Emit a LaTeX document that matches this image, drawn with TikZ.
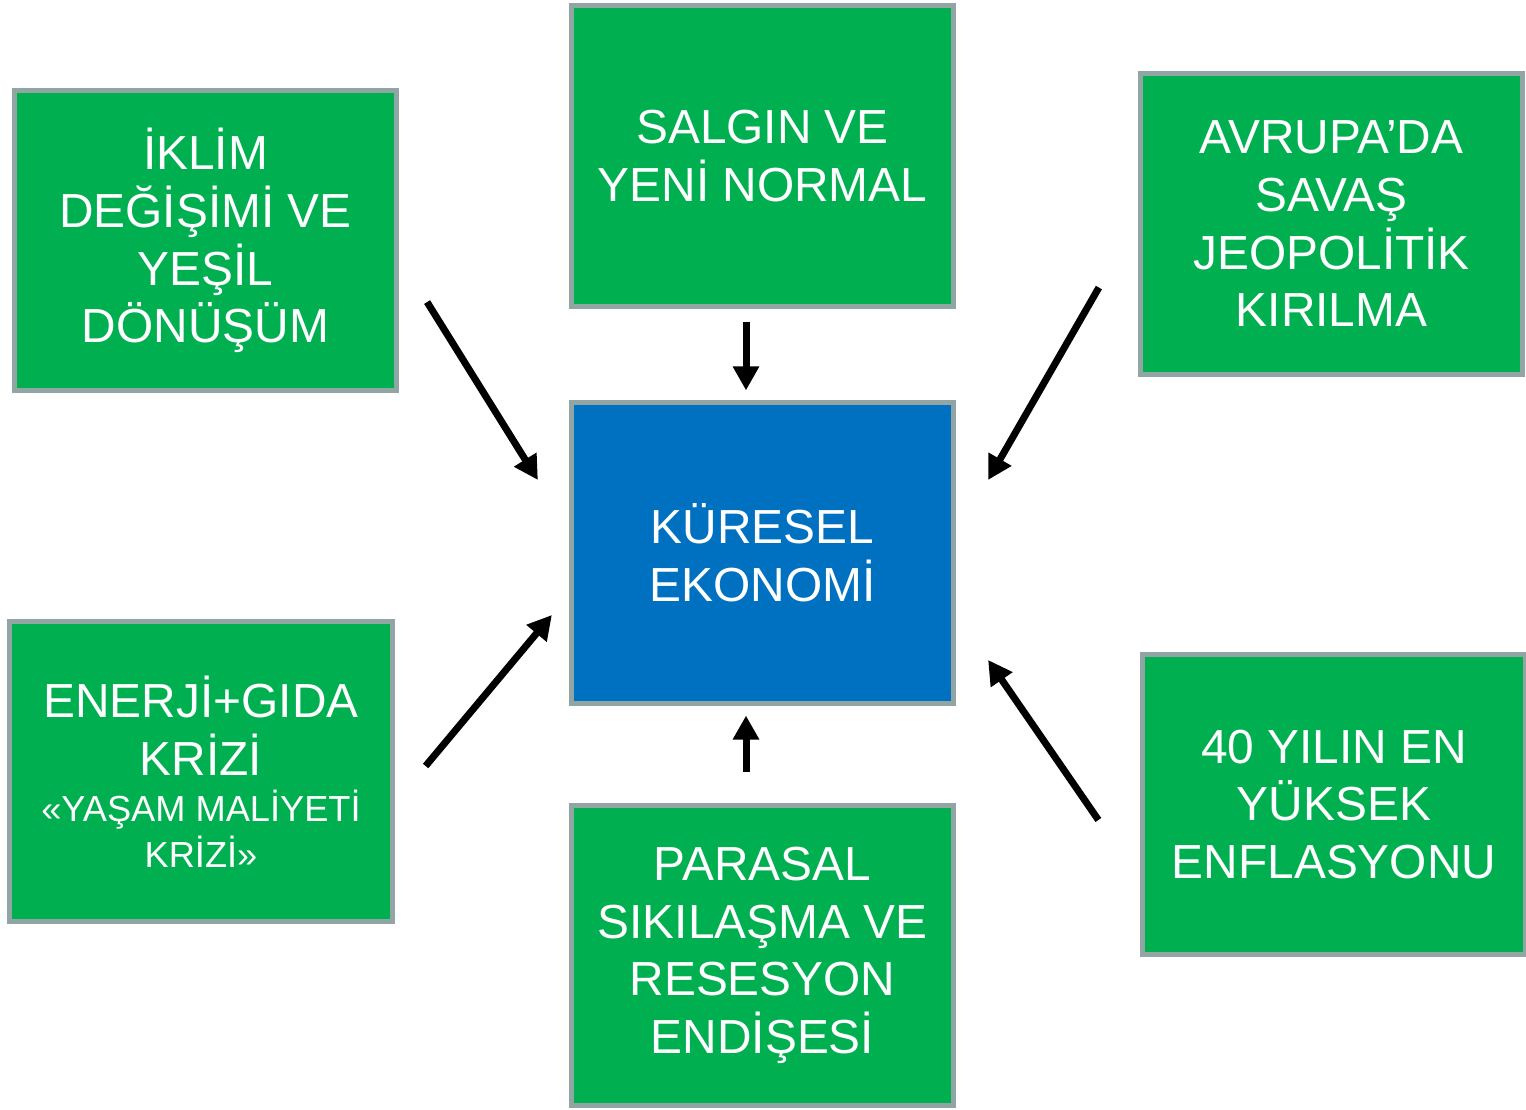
\documentclass[tikz,border=0pt]{standalone}
\usepackage{fontspec}
\setmainfont{Liberation Sans}
\usepackage{xcolor}
\usepackage{tikz}
\usetikzlibrary{arrows.meta,calc}

\definecolor{yesil}{RGB}{0,176,80}
\definecolor{mavi}{RGB}{0,112,192}
\definecolor{kenar}{RGB}{145,165,165}

\newcommand{\buyuk}{\fontsize{13.6}{16.4}\selectfont}
\newcommand{\kucuk}{\fontsize{10.3}{12.5}\selectfont}

\begin{document}
\begin{tikzpicture}[x=0.01cm, y=-0.01cm, >={Triangle[length=0.24cm,width=0.25cm]}]

	\tikzstyle{kutu}=[rectangle, draw=kenar, line width=0.05cm, fill=yesil, text=white,
		minimum width=3.82cm, minimum height=3.0cm, align=center, font=\buyuk, inner sep=0pt]
	\tikzstyle{ok}=[->, line width=0.07cm, black]

	\useasboundingbox (0,0) rectangle (1526,1110);

	\node[kutu, fill=mavi] (K) at (762.5,553) {KÜRESEL\\EKONOMİ};
	\node[kutu] (A) at (205.5,240.5) {İKLİM\\DEĞİŞİMİ VE\\YEŞİL\\DÖNÜŞÜM};
	\node[kutu] (B) at (762.5,156) {SALGIN VE\\YENİ NORMAL};
	\node[kutu] (C) at (1331.5,224) {AVRUPA’DA\\SAVAŞ\\JEOPOLİTİK\\KIRILMA};
	\node[kutu] (D) at (201,771.5) {ENERJİ+GIDA\\KRİZİ\\[-3.2pt]
		\kucuk «YAŞAM MALİYETİ\\[-3.4pt] \kucuk KRİZİ»};
	\node[kutu] (E) at (762.5,955.5) {PARASAL\\SIKILAŞMA VE\\RESESYON\\ENDİŞESİ};
	\node[kutu] (F) at (1334,804.5) {40 YILIN EN\\YÜKSEK\\ENFLASYONU};

	% From everyone to K
	\draw[ok] ($(A.south east)+(28,-91)$) -- ($(K.west)+(-31,-73)$);
	\draw[ok] ($(B.south)+(-16.5,13)$) -- ($(K.north)+(-16.5,-10)$);
	\draw[ok] ($(C.south west)+(-39,-89)$) -- ($(K.east)+(32,-73)$);
	\draw[ok] ($(D.east)+(31,-5.5)$) -- ($(K.west)+(-17,62)$);
	\draw[ok] ($(E.north)+(-16.5,-31)$) -- ($(K.south)+(-16.5,10)$);
	\draw[ok] ($(F.west)+(-42,15.5)$) -- ($(K.east)+(32,107)$);

\end{tikzpicture}
\end{document}
